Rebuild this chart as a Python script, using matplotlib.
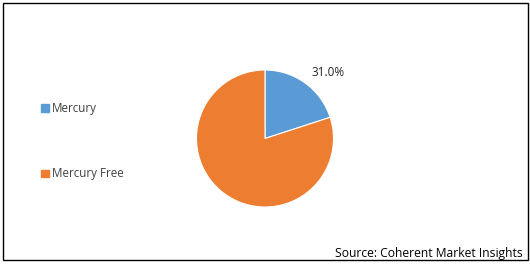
import matplotlib.pyplot as plt
from matplotlib.patches import Rectangle

labels = ["Mercury", "Mercury Free"]
shares = [20.0, 80.0]
colors = ["#5b9bd5", "#ed7d31"]
pct_label = "31.0%"

W, H = 530, 266
fig = plt.figure(figsize=(W / 100, H / 100), dpi=100)
plt.rcParams["font.family"] = ["Open Sans", "DejaVu Sans"]

# outer frame
fig.patches.append(Rectangle((2.5 / W, 1 - 259.5 / H), 525 / W, 257 / H,
                             transform=fig.transFigure, fill=False,
                             edgecolor="black", linewidth=1.0))

cx, cy, r = 265, 138.5, 68.5
ax = fig.add_axes([(cx - r) / W, 1 - (cy + r) / H, 2 * r / W, 2 * r / H])
ax.pie(shares, colors=colors, startangle=90, counterclock=False,
       wedgeprops=dict(edgecolor="white", linewidth=0.8))
ax.set_xlim(-1, 1)
ax.set_ylim(-1, 1)
ax.set_aspect("equal")
ax.axis("off")

fig.text(312 / W, 1 - 72.5 / H, pct_label, fontsize=8.5, color="#262626",
         va="center", ha="left")

for lab, col, y in zip(labels, colors, [108, 173]):
    fig.patches.append(Rectangle((41 / W, 1 - (y + 4) / H), 7.5 / W, 7.5 / H,
                                 transform=fig.transFigure, color=col))
    fig.text(52 / W, 1 - (y + 0.5) / H, lab, fontsize=8.4, color="#404040",
             va="center", ha="left")

fig.text(523 / W, 1 - 253.5 / H, "Source: Coherent Market Insights",
         fontsize=8.7, color="black", va="center", ha="right")

fig.savefig("out.png", dpi=100)
